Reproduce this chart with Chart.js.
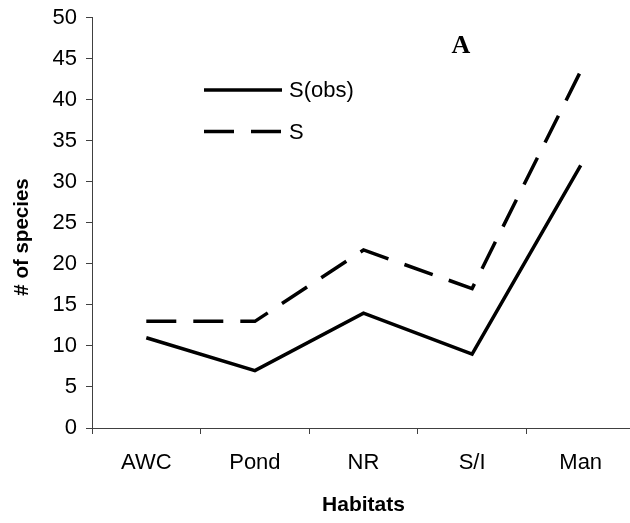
<!DOCTYPE html>
<html>
<head>
<meta charset="utf-8">
<script src="https://cdn.jsdelivr.net/npm/chart.js@4.4.1/dist/chart.umd.min.js"></script>
<style>
  html, body { margin: 0; padding: 0; background: #fff; overflow: hidden; width: 630px; height: 523px; }
  #wrap { width: 645px; height: 523px; }
</style>
</head>
<body>
<div id="wrap"><canvas id="c" width="645" height="523"></canvas></div>
<script>
const categories = ['AWC', 'Pond', 'NR', 'S/I', 'Man'];
const sObs = [11, 7, 14, 9, 32];
const sEst = [13, 13, 21.7, 17, 43.5];
const seriesNames = ['S(obs)', 'S'];
const yTicks = { min: 0, max: 50, step: 5 };
const panelLabel = 'A';
const xTitle = 'Habitats';
const yTitle = '# of species';

const axisColor = '#404040';
const FAMILY = '"Liberation Sans", Arial, sans-serif';
const xTickFont = { family: FAMILY, size: 22 };
const yTickFont = { family: FAMILY, size: 22, lineHeight: 0.8 };
const titleFont = { family: FAMILY, size: 21, weight: 'bold' };

const overlayPlugin = {
  id: 'overlay',
  afterDraw(chart) {
    const ctx = chart.ctx;
    ctx.save();
    // legend inside plot
    chart.data.datasets.forEach((ds, i) => {
      const y = 90 + i * 41.5;
      ctx.beginPath();
      ctx.setLineDash(ds.borderDash || []);
      ctx.lineWidth = ds.borderWidth;
      ctx.strokeStyle = ds.borderColor;
      ctx.lineCap = 'butt';
      ctx.moveTo(204, y);
      ctx.lineTo(282, y);
      ctx.stroke();
      ctx.setLineDash([]);
      ctx.fillStyle = '#000';
      ctx.font = '22px ' + FAMILY;
      ctx.textBaseline = 'middle';
      ctx.textAlign = 'left';
      ctx.fillText(ds.label, 289, y + 1);
    });
    // panel letter
    ctx.font = 'bold 26px "Liberation Serif", "Times New Roman", serif';
    ctx.textAlign = 'center';
    ctx.textBaseline = 'middle';
    ctx.fillStyle = '#000';
    ctx.fillText(panelLabel, 461, 46);
    // y axis title
    ctx.translate(22, 237);
    ctx.rotate(-Math.PI / 2);
    ctx.font = 'bold 20.5px ' + FAMILY;
    ctx.textAlign = 'center';
    ctx.textBaseline = 'middle';
    ctx.fillText(yTitle, 0, 0);
    ctx.restore();
  }
};

new Chart(document.getElementById('c'), {
  type: 'line',
  data: {
    labels: categories,
    datasets: [
      { label: seriesNames[0], data: sObs, borderColor: '#000', borderWidth: 3.5, pointRadius: 0, tension: 0, fill: false, borderJoinStyle: 'miter' },
      { label: seriesNames[1], data: sEst, borderColor: '#000', borderWidth: 3.5, borderDash: [30, 17], pointRadius: 0, tension: 0, fill: false, borderJoinStyle: 'miter' }
    ]
  },
  options: {
    responsive: false,
    animation: false,
    events: [],
    layout: { padding: { top: 0, right: 10, bottom: 0, left: 0 } },
    plugins: { legend: { display: false }, tooltip: { enabled: false } },
    scales: {
      x: {
        offset: true,
        grid: { offset: true, drawOnChartArea: false, tickLength: 6, color: axisColor, tickColor: axisColor },
        border: { color: axisColor, width: 1 },
        ticks: { color: '#000', font: xTickFont, padding: 16, maxRotation: 0, autoSkip: false },
        title: { display: true, text: xTitle, color: '#000', font: titleFont, padding: { top: 0, bottom: 5 } },
        afterFit(scale) { scale.height = 95; }
      },
      y: {
        min: yTicks.min, max: yTicks.max,
        grid: { drawOnChartArea: false, tickLength: 6, color: axisColor, tickColor: axisColor },
        border: { color: axisColor, width: 1 },
        ticks: { stepSize: yTicks.step, color: '#000', font: yTickFont, padding: 9 },
        title: { display: false },
        afterFit(scale) { scale.width = 92; }
      }
    }
  },
  plugins: [overlayPlugin]
});
</script>
</body>
</html>
